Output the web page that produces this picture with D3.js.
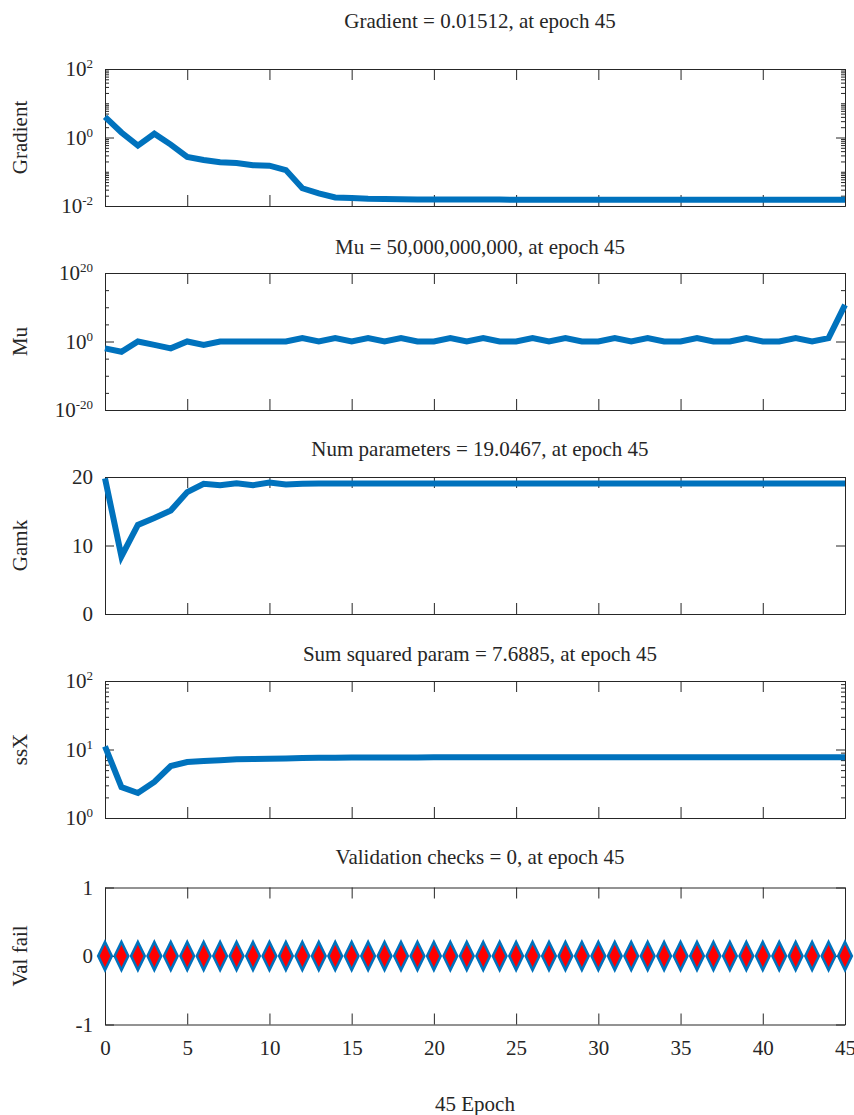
<!DOCTYPE html>
<html>
<head>
<meta charset="utf-8">
<script src="https://cdn.jsdelivr.net/npm/d3@7"></script>
<style>
    body { margin: 0; background: #fff; }
    svg text, svg tspan { font-family: "Liberation Serif", serif !important; }
</style>
</head>
<body>
<div id="chart"></div>
<script>
// epochs 0..45
const epochs = d3.range(0, 46);
const xTickValues = [0, 5, 10, 15, 20, 25, 30, 35, 40, 45];

const gradientValues = [
    4.0, 1.4, 0.58, 1.29, 0.62, 0.27, 0.22, 0.19, 0.18, 0.155,
    0.15, 0.112, 0.033, 0.0234, 0.0178, 0.0170, 0.0162, 0.0159, 0.0157, 0.0156,
    0.0155, 0.0155, 0.0154, 0.0154, 0.0154, 0.0153, 0.0153, 0.0153, 0.0153, 0.0153,
    0.0152, 0.0152, 0.0152, 0.0152, 0.0152, 0.0152, 0.0152, 0.0152, 0.0152, 0.0152,
    0.0151, 0.0151, 0.0151, 0.0151, 0.0151, 0.01512
];

const muValues = [
    0.01, 0.001, 1, 0.1, 0.01, 1, 0.1, 1, 1, 1,
    1, 1, 10, 1, 10, 1, 10, 1, 10, 1,
    1, 10, 1, 10, 1, 1, 10, 1, 10, 1,
    1, 10, 1, 10, 1, 1, 10, 1, 1, 10,
    1, 1, 10, 1, 10, 5e10
];

const gamkValues = [
    19.8, 8.4, 13.0, 14.0, 15.1, 17.8, 19.0, 18.8, 19.1, 18.8,
    19.2, 18.9, 19.0, 19.05, 19.05, 19.05, 19.05, 19.05, 19.05, 19.05,
    19.05, 19.05, 19.05, 19.05, 19.05, 19.05, 19.05, 19.05, 19.05, 19.05,
    19.05, 19.05, 19.05, 19.05, 19.05, 19.05, 19.05, 19.05, 19.05, 19.05,
    19.05, 19.05, 19.05, 19.05, 19.05, 19.0467
];

const ssxValues = [
    11.1, 2.83, 2.32, 3.36, 5.74, 6.57, 6.79, 6.95, 7.2, 7.27,
    7.35, 7.4, 7.5, 7.55, 7.6, 7.62, 7.64, 7.65, 7.66, 7.67,
    7.68, 7.68, 7.68, 7.68, 7.68, 7.68, 7.68, 7.68, 7.68, 7.68,
    7.68, 7.68, 7.68, 7.68, 7.68, 7.68, 7.68, 7.68, 7.68, 7.68,
    7.68, 7.68, 7.68, 7.68, 7.68, 7.6885
];

const valFailValues = [
    0, 0, 0, 0, 0, 0, 0, 0, 0, 0,
    0, 0, 0, 0, 0, 0, 0, 0, 0, 0,
    0, 0, 0, 0, 0, 0, 0, 0, 0, 0,
    0, 0, 0, 0, 0, 0, 0, 0, 0, 0,
    0, 0, 0, 0, 0, 0
];

const panelTitles = [
    'Gradient = 0.01512, at epoch 45',
    'Mu = 50,000,000,000, at epoch 45',
    'Num parameters = 19.0467, at epoch 45',
    'Sum squared param = 7.6885, at epoch 45',
    'Validation checks = 0, at epoch 45'
];
const panelYLabels = ['Gradient', 'Mu', 'Gamk', 'ssX', 'Val fail'];
const xLabel = '45 Epoch';

// labelled y ticks per panel
const gradientTicks = [1e-2, 1e0, 1e2];
const muTicks = [1e-20, 1e0, 1e20];
const gamkTicks = [0, 10, 20];
const ssxTicks = [1e0, 1e1, 1e2];
const valFailTicks = [-1, 0, 1];

// layout
const width = 854;
const height = 1115;
const left = 105;
const right = 845;
const panelHeight = 137;
const panelTops = [69, 273, 477, 681, 887.5];
const titleBaselines = [28, 254, 456, 661, 864];
const lineColor = '#0072BD';
const axisColor = '#262626';
const fontSize = 21;
const fontFamily = '"Liberation Serif", serif';

const svg = d3.select('#chart')
    .append('svg')
    .attr('width', width)
    .attr('height', height);

svg.append('rect')
    .attr('width', width)
    .attr('height', height)
    .attr('fill', '#fff');

const x = d3.scaleLinear()
    .domain([0, 45])
    .range([left, right]);

// serif text helper
function textStyle(sel, size) {
    sel.style('font-family', fontFamily, 'important')
        .style('font-size', `${size}px`)
        .style('fill', axisColor);
}

/**
 * Log label "10" with superscript exponent
 */
function powerLabel(sel) {
    sel.each(function(d) {
        const t = d3.select(this);
        const exp = Math.round(Math.log10(d));
        t.text('');
        t.append('tspan').text('10');
        t.append('tspan')
            .style('font-size', '13px')
            .attr('dy', -8)
            .text(String(exp));
    });
}

function styleAxis(g) {
    g.attr('font-size', null).attr('font-family', null);
    g.selectAll('path.domain').attr('stroke', axisColor).attr('stroke-width', 1);
    g.selectAll('.tick line').attr('stroke', axisColor).attr('stroke-width', 1);
    g.selectAll('.tick text').call(textStyle, fontSize);
}

/**
 * Draw one panel: box, ticks, labels, series
 */
function drawPanel(i, cfg) {
    const top = panelTops[i];
    const bottom = top + panelHeight;
    const y = cfg.scale.range([bottom, top]);
    const g = svg.append('g');

    // title
    g.append('text')
        .attr('x', 480)
        .attr('y', titleBaselines[i])
        .attr('text-anchor', 'middle')
        .call(textStyle, fontSize)
        .text(panelTitles[i]);

    // y label
    g.append('text')
        .attr('transform', `translate(27,${(top + bottom) / 2}) rotate(-90)`)
        .attr('text-anchor', 'middle')
        .call(textStyle, fontSize)
        .text(panelYLabels[i]);

    // minor ticks (log panels)
    if (cfg.minorTicks) {
        g.append('g')
            .attr('transform', `translate(${left},0)`)
            .call(d3.axisLeft(y).tickValues(cfg.minorTicks).tickSize(-4).tickSizeOuter(0).tickFormat(''))
            .call(styleAxis);
        g.append('g')
            .attr('transform', `translate(${right},0)`)
            .call(d3.axisRight(y).tickValues(cfg.minorTicks).tickSize(-4).tickSizeOuter(0).tickFormat(''))
            .call(styleAxis);
    }

    // left axis with labels
    const leftAxis = g.append('g')
        .attr('transform', `translate(${left},0)`)
        .call(d3.axisLeft(y).tickValues(cfg.ticks).tickSize(-9).tickSizeOuter(0).tickPadding(12)
            .tickFormat(cfg.log ? d => d : d => String(d)))
        .call(styleAxis);
    if (cfg.log) leftAxis.selectAll('.tick text').call(powerLabel);

    g.append('g')
        .attr('transform', `translate(${right},0)`)
        .call(d3.axisRight(y).tickValues(cfg.ticks).tickSize(-9).tickSizeOuter(0).tickFormat(''))
        .call(styleAxis);

    // top / bottom x axes
    g.append('g')
        .attr('transform', `translate(0,${top})`)
        .call(d3.axisTop(x).tickValues(xTickValues).tickSize(-11).tickSizeOuter(0).tickFormat(''))
        .call(styleAxis);
    g.append('g')
        .attr('transform', `translate(0,${bottom})`)
        .call(d3.axisBottom(x).tickValues(xTickValues).tickSize(-11).tickSizeOuter(0).tickPadding(16)
            .tickFormat(cfg.showX ? d => String(d) : ''))
        .call(styleAxis);

    if (cfg.markers) {
        // diamonds
        g.append('g')
            .selectAll('path')
            .data(epochs)
            .enter()
            .append('path')
            .attr('d', e => {
                const cx = x(e), cy = y(cfg.values[e]);
                return `M${cx},${cy - 14}L${cx + 6.8},${cy}L${cx},${cy + 14}L${cx - 6.8},${cy}Z`;
            })
            .attr('fill', '#FF0000')
            .attr('stroke', lineColor)
            .attr('stroke-width', 2.6);
    } else {
        const line = d3.line()
            .x(e => x(e))
            .y(e => y(cfg.values[e]));
        g.append('path')
            .datum(epochs)
            .attr('d', line)
            .attr('fill', 'none')
            .attr('stroke', lineColor)
            .attr('stroke-width', 6)
            .attr('stroke-linejoin', 'miter');
    }
}

const gradScale = d3.scaleLog().domain([1e-2, 1e2]);
drawPanel(0, {
    scale: gradScale,
    values: gradientValues,
    ticks: gradientTicks,
    minorTicks: gradScale.ticks().filter(v => !gradientTicks.includes(v)),
    log: true
});

drawPanel(1, {
    scale: d3.scaleLog().domain([1e-20, 1e20]),
    values: muValues,
    ticks: muTicks,
    minorTicks: [-15, -10, -5, 5, 10, 15].map(p => Math.pow(10, p)),
    log: true
});

drawPanel(2, {
    scale: d3.scaleLinear().domain([0, 20]),
    values: gamkValues,
    ticks: gamkTicks
});

const ssxScale = d3.scaleLog().domain([1e0, 1e2]);
drawPanel(3, {
    scale: ssxScale,
    values: ssxValues,
    ticks: ssxTicks,
    minorTicks: ssxScale.ticks().filter(v => !ssxTicks.includes(v)),
    log: true
});

drawPanel(4, {
    scale: d3.scaleLinear().domain([-1, 1]),
    values: valFailValues,
    ticks: valFailTicks,
    markers: true,
    showX: true
});

// x label
svg.append('text')
    .attr('x', 475)
    .attr('y', 1111)
    .attr('text-anchor', 'middle')
    .call(textStyle, fontSize)
    .text(xLabel);
</script>
</body>
</html>
